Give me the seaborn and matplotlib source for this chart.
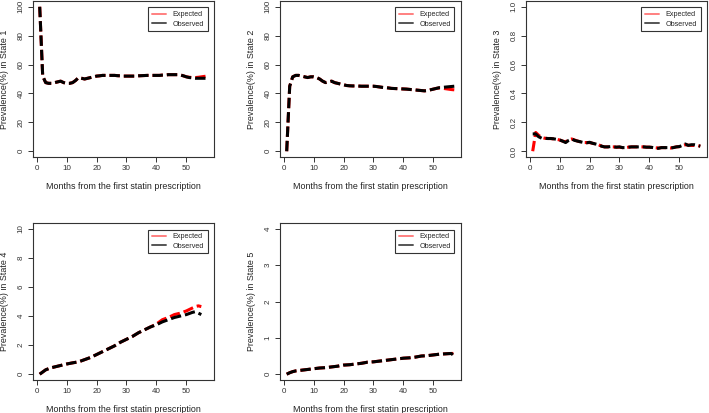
import numpy as np
import pandas as pd
import matplotlib
matplotlib.use("Agg")
import matplotlib.pyplot as plt
from matplotlib.lines import Line2D
import seaborn as sns

sns.set_style("ticks")
plt.rcParams["font.family"] = ["Liberation Sans", "DejaVu Sans"]

# ---- data ----
months = list(range(1, 58))

s1_obs = [100, 52, 47.5, 47, 47, 47.5, 48, 48.5, 47.5, 47, 47, 47.5, 49, 51, 50.5, 50, 50.5, 51, 51.5, 52,
          52.2, 52.5, 52.5, 52.5, 52.5, 52.5, 52.3, 52.2, 52, 52, 52, 52, 52, 52.2, 52.3, 52.4, 52.5, 52.5, 52.5, 52.5,
          52.5, 52.7, 52.8, 53, 53, 53, 53, 52.8, 52.2, 51.5, 51, 50.8, 50.5, 50.5, 50.5, 50.5, 50.5]
s1_exp = [100, 52, 47.5, 47, 47, 47.5, 48, 48.5, 47.5, 47, 47, 47.5, 49, 51, 50.5, 50, 50.5, 51, 51.5, 52,
          52.2, 52.5, 52.5, 52.5, 52.5, 52.5, 52.3, 52.2, 52, 52, 52, 52, 52, 52.2, 52.3, 52.4, 52.5, 52.5, 52.5, 52.5,
          52.5, 52.7, 52.8, 53, 53, 53, 53, 52.8, 52.2, 51.5, 51.2, 51, 51, 51.2, 51.5, 51.8, 52]

s2_obs = [0, 45, 51.5, 52.5, 52.5, 52, 51.5, 51, 51.5, 51.5, 51, 50, 48.5, 47.5, 48, 48.5, 47.5, 47, 46.5, 46,
          45.5, 45.3, 45.2, 45.2, 45.1, 45, 45, 45, 45, 45, 44.8, 44.5, 44.2, 44, 43.8, 43.5, 43.4, 43.3, 43.2, 43.1,
          43, 42.8, 42.6, 42.4, 42.2, 42, 41.8, 42, 42.5, 43, 43.5, 44, 44.2, 44.4, 44.6, 44.8, 45]
s2_exp = [0, 45, 51.5, 52.5, 52.5, 52, 51.5, 51, 51.5, 51.5, 51, 50, 48.5, 47.5, 48, 48.5, 47.5, 47, 46.5, 46,
          45.5, 45.3, 45.2, 45.2, 45.1, 45, 45, 45, 45, 45, 44.8, 44.5, 44.2, 44, 43.8, 43.5, 43.4, 43.3, 43.2, 43.1,
          43, 42.8, 42.6, 42.4, 42.2, 42, 41.8, 42, 42.5, 43, 43.5, 43.8, 43.6, 43.3, 43, 42.7, 42.5]

s3_obs = [0.12, 0.12, 0.10, 0.09, 0.09, 0.088, 0.088, 0.086, 0.082, 0.078, 0.07, 0.06, 0.075, 0.085, 0.075, 0.07,
          0.065, 0.06, 0.058, 0.062, 0.055, 0.05, 0.045, 0.035, 0.03, 0.03, 0.032, 0.03, 0.028, 0.03, 0.025, 0.025,
          0.028, 0.03, 0.03, 0.03, 0.03, 0.03, 0.028, 0.028, 0.026, 0.022, 0.02, 0.025, 0.025, 0.025, 0.022, 0.025,
          0.03, 0.032, 0.04, 0.05, 0.04, 0.045, 0.045, 0.04, 0.035]
s3_exp = [0.0, 0.13, 0.11, 0.095, 0.09, 0.088, 0.088, 0.085, 0.082, 0.078, 0.07, 0.065, 0.08, 0.085, 0.078, 0.07,
          0.065, 0.06, 0.06, 0.06, 0.055, 0.05, 0.045, 0.035, 0.03, 0.03, 0.03, 0.03, 0.028, 0.028, 0.025, 0.025,
          0.028, 0.03, 0.03, 0.03, 0.03, 0.03, 0.028, 0.028, 0.026, 0.024, 0.022, 0.025, 0.025, 0.024, 0.022, 0.026,
          0.03, 0.032, 0.038, 0.045, 0.042, 0.04, 0.04, 0.04, 0.035]

s4_months = [1, 2, 3, 4, 5, 6, 7, 8, 9, 10, 12, 14, 16, 18, 20, 22, 24, 26, 28, 30, 32, 34, 36, 38, 40,
             42, 44, 46, 48, 50, 52, 53, 54, 55]
s4_obs = [0, 0.15, 0.3, 0.38, 0.45, 0.5, 0.55, 0.6, 0.65, 0.7, 0.78, 0.85, 1.0, 1.15, 1.35, 1.55, 1.75, 1.95,
          2.2, 2.4, 2.6, 2.85, 3.05, 3.25, 3.4, 3.6, 3.75, 3.9, 4.0, 4.1, 4.25, 4.3, 4.2, 4.1]
s4_exp = [0, 0.15, 0.3, 0.38, 0.45, 0.5, 0.55, 0.6, 0.65, 0.7, 0.78, 0.85, 1.0, 1.15, 1.35, 1.55, 1.75, 1.95,
          2.2, 2.4, 2.6, 2.85, 3.05, 3.25, 3.45, 3.75, 3.9, 4.1, 4.2, 4.35, 4.55, 4.65, 4.7, 4.65]

s5_months = [1, 2, 3, 4, 5, 6, 8, 10, 12, 14, 16, 18, 20, 22, 24, 26, 28, 30, 32, 34, 36, 38, 40, 42, 44,
             46, 48, 50, 52, 54, 56, 57]
s5_obs = [0, 0.04, 0.07, 0.09, 0.1, 0.11, 0.13, 0.15, 0.17, 0.18, 0.2, 0.22, 0.25, 0.26, 0.28, 0.3, 0.33,
          0.34, 0.36, 0.38, 0.4, 0.42, 0.44, 0.45, 0.47, 0.5, 0.51, 0.53, 0.55, 0.56, 0.57, 0.5]
s5_exp = [0, 0.04, 0.07, 0.09, 0.1, 0.11, 0.13, 0.15, 0.17, 0.18, 0.2, 0.22, 0.25, 0.26, 0.28, 0.3, 0.33,
          0.34, 0.36, 0.38, 0.4, 0.42, 0.44, 0.45, 0.47, 0.5, 0.51, 0.53, 0.55, 0.56, 0.57, 0.57]

panels = [
    ("State 1", months, s1_exp, s1_obs, 100, [0, 20, 40, 60, 80, 100], None),
    ("State 2", months, s2_exp, s2_obs, 100, [0, 20, 40, 60, 80, 100], None),
    ("State 3", months, s3_exp, s3_obs, 1.0, [0.0, 0.2, 0.4, 0.6, 0.8, 1.0], "%.1f"),
    ("State 4", s4_months, s4_exp, s4_obs, 10, [0, 2, 4, 6, 8, 10], None),
    ("State 5", s5_months, s5_exp, s5_obs, 4, [0, 1, 2, 3, 4], None),
]

W, H = 709, 413
fig = plt.figure(figsize=(W / 100, H / 100), dpi=100)

lefts = [33, 280, 526]
rows = [(1, 157), (223, 380)]
pw = 181

for i, (state, mx, exp_v, obs_v, ymax, yt, fmt) in enumerate(panels):
    r, c = divmod(i, 3)
    top, bot = rows[r]
    ax = fig.add_axes([lefts[c] / W, 1 - bot / H, pw / W, (bot - top) / H])

    df = pd.DataFrame({"month": mx * 2,
                       "prev": list(exp_v) + list(obs_v),
                       "kind": ["Expected"] * len(mx) + ["Observed"] * len(mx)})
    sns.lineplot(data=df[df.kind == "Expected"], x="month", y="prev", color="red",
                 linewidth=2.2, ax=ax, legend=False)
    sns.lineplot(data=df[df.kind == "Observed"], x="month", y="prev", color="black",
                 linewidth=2.2, ax=ax, legend=False)
    for ln in ax.lines:
        ln.set_dashes((3.4, 1.3))
        ln.set_dash_capstyle("butt")

    pad = 0.04 * 56
    ax.set_xlim(1 - pad, 57 + pad)
    ax.set_ylim(-0.04 * ymax, ymax * 1.04)
    ax.set_xticks([0, 10, 20, 30, 40, 50])
    ax.set_yticks(yt)
    if fmt:
        ax.set_yticklabels([fmt % v for v in yt])
    ax.tick_params(labelsize=5.8, length=3.5, width=0.7, pad=2.5, colors="#333333")
    for lbl in ax.get_yticklabels():
        lbl.set_rotation(90)
        lbl.set_va("center")
    for sp in ax.spines.values():
        sp.set_linewidth(0.8)
        sp.set_color("#333333")
    ax.set_xlabel("Months from the first statin prescription", fontsize=6.4, labelpad=7, color="#222222")
    ax.set_ylabel(f"Prevalence(%) in {state}", fontsize=6.4, labelpad=6, color="#222222")

    handles = [Line2D([], [], color="#ff8080", lw=1.4),
               Line2D([], [], color="#555555", lw=1.4)]
    leg = ax.legend(handles, ["Expected", "Observed"], loc="upper right", fontsize=5.2,
                    frameon=True, fancybox=False, framealpha=1, edgecolor="#333333",
                    borderaxespad=0.9, handlelength=2.0, handletextpad=0.9,
                    labelspacing=0.35, borderpad=0.5)
    leg.get_frame().set_linewidth(0.8)

fig.savefig("out.png", dpi=100)
